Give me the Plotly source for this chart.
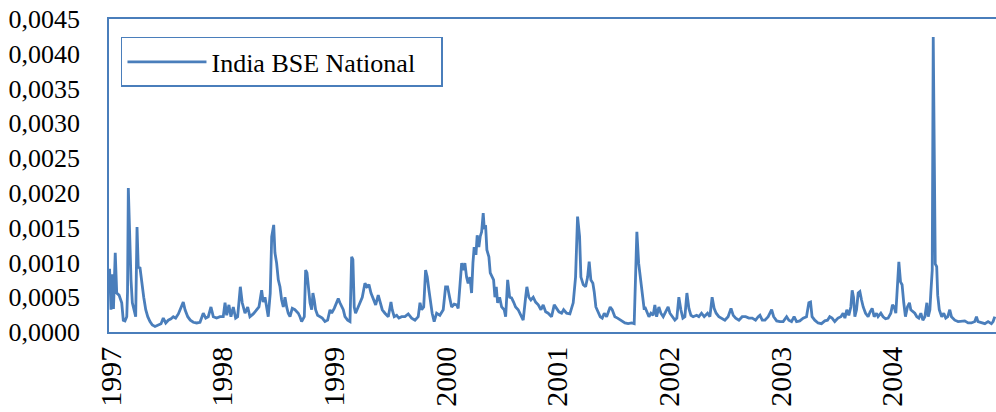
import plotly.graph_objects as go

years = [
    1996.987, 1997.000, 1997.012, 1997.022, 1997.038, 1997.051, 1997.072, 1997.096, 1997.110, 1997.125,
    1997.141, 1997.148, 1997.155, 1997.167, 1997.179, 1997.191, 1997.209, 1997.221, 1997.233, 1997.244,
    1997.260, 1997.275, 1997.293, 1997.311, 1997.329, 1997.349, 1997.370, 1997.394, 1997.423, 1997.448,
    1997.468, 1997.490, 1997.513, 1997.537, 1997.558, 1997.579, 1997.603, 1997.627, 1997.647, 1997.663,
    1997.687, 1997.710, 1997.737, 1997.767, 1997.797, 1997.826, 1997.848, 1997.871, 1997.895, 1997.916,
    1997.946, 1997.976, 1998.005, 1998.021, 1998.036, 1998.056, 1998.074, 1998.095, 1998.116, 1998.134,
    1998.158, 1998.175, 1998.200, 1998.224, 1998.244, 1998.274, 1998.304, 1998.325, 1998.349, 1998.363,
    1998.379, 1998.394, 1998.408, 1998.426, 1998.439, 1998.457, 1998.468, 1998.483, 1998.498, 1998.513,
    1998.528, 1998.543, 1998.558, 1998.573, 1998.587, 1998.603, 1998.623, 1998.647, 1998.677, 1998.692,
    1998.707, 1998.731, 1998.743, 1998.755, 1998.766, 1998.782, 1998.797, 1998.808, 1998.820, 1998.832,
    1998.850, 1998.871, 1998.892, 1998.916, 1998.940, 1998.961, 1998.976, 1998.999, 1999.021, 1999.035,
    1999.050, 1999.065, 1999.080, 1999.095, 1999.119, 1999.140, 1999.155, 1999.166, 1999.178, 1999.190,
    1999.208, 1999.229, 1999.250, 1999.274, 1999.292, 1999.310, 1999.328, 1999.348, 1999.370, 1999.393,
    1999.409, 1999.429, 1999.453, 1999.483, 1999.507, 1999.518, 1999.536, 1999.558, 1999.578, 1999.603,
    1999.632, 1999.662, 1999.692, 1999.722, 1999.751, 1999.767, 1999.782, 1999.800, 1999.817, 1999.832,
    1999.847, 1999.862, 1999.876, 1999.894, 1999.916, 1999.945, 1999.975, 1999.996, 2000.014, 2000.032,
    2000.050, 2000.073, 2000.095, 2000.109, 2000.124, 2000.140, 2000.154, 2000.169, 2000.184, 2000.198,
    2000.214, 2000.229, 2000.241, 2000.252, 2000.268, 2000.279, 2000.294, 2000.306, 2000.319, 2000.333,
    2000.342, 2000.355, 2000.366, 2000.384, 2000.396, 2000.414, 2000.426, 2000.438, 2000.450, 2000.462,
    2000.480, 2000.498, 2000.521, 2000.534, 2000.552, 2000.570, 2000.587, 2000.605, 2000.623, 2000.646,
    2000.671, 2000.691, 2000.713, 2000.724, 2000.742, 2000.760, 2000.781, 2000.802, 2000.826, 2000.850,
    2000.870, 2000.892, 2000.915, 2000.945, 2000.969, 2000.990, 2001.011, 2001.035, 2001.053, 2001.080,
    2001.109, 2001.139, 2001.160, 2001.178, 2001.196, 2001.208, 2001.229, 2001.250, 2001.268, 2001.282,
    2001.297, 2001.315, 2001.327, 2001.342, 2001.363, 2001.381, 2001.399, 2001.417, 2001.438, 2001.470,
    2001.488, 2001.512, 2001.536, 2001.566, 2001.602, 2001.631, 2001.662, 2001.685, 2001.698, 2001.709,
    2001.725, 2001.739, 2001.757, 2001.775, 2001.781, 2001.796, 2001.817, 2001.835, 2001.855, 2001.870,
    2001.886, 2001.906, 2001.924, 2001.945, 2001.966, 2001.989, 2002.005, 2002.025, 2002.049, 2002.067,
    2002.085, 2002.103, 2002.121, 2002.139, 2002.157, 2002.175, 2002.193, 2002.213, 2002.244, 2002.264,
    2002.288, 2002.312, 2002.342, 2002.363, 2002.383, 2002.401, 2002.419, 2002.443, 2002.467, 2002.497,
    2002.526, 2002.552, 2002.572, 2002.594, 2002.623, 2002.652, 2002.683, 2002.712, 2002.742, 2002.772,
    2002.796, 2002.811, 2002.832, 2002.856, 2002.885, 2002.916, 2002.934, 2002.961, 2002.990, 2003.019,
    2003.050, 2003.070, 2003.094, 2003.117, 2003.139, 2003.168, 2003.198, 2003.228, 2003.249, 2003.264,
    2003.278, 2003.302, 2003.332, 2003.362, 2003.392, 2003.416, 2003.436, 2003.457, 2003.481, 2003.510,
    2003.536, 2003.556, 2003.572, 2003.589, 2003.607, 2003.625, 2003.637, 2003.649, 2003.661, 2003.676,
    2003.691, 2003.706, 2003.721, 2003.736, 2003.757, 2003.780, 2003.798, 2003.816, 2003.834, 2003.855,
    2003.869, 2003.894, 2003.914, 2003.936, 2003.959, 2003.983, 2003.998, 2004.013, 2004.028, 2004.043,
    2004.055, 2004.070, 2004.084, 2004.099, 2004.114, 2004.132, 2004.150, 2004.162, 2004.180, 2004.198,
    2004.216, 2004.234, 2004.252, 2004.270, 2004.288, 2004.306, 2004.318, 2004.333, 2004.342, 2004.354,
    2004.363, 2004.381, 2004.394, 2004.403, 2004.417, 2004.439, 2004.457, 2004.475, 2004.493, 2004.511,
    2004.526, 2004.556, 2004.586, 2004.616, 2004.645, 2004.675, 2004.705, 2004.735, 2004.750, 2004.764,
    2004.795, 2004.825, 2004.854, 2004.884, 2004.899, 2004.914,
]

# India BSE National volatility, in units of 1e-4
india_bse_e4 = [
    9.1, 3.2, 8.3, 3.3, 11.4, 5.6, 5.3, 4.2, 1.7, 1.6,
    2.2, 5.8, 20.7, 13.7, 7.5, 4.2, 3.2, 2.2, 15.1, 9.3,
    9.2, 7.0, 5.0, 3.2, 2.2, 1.5, 1.0, 0.8, 1.0, 1.2,
    2.0, 1.3, 1.7, 1.9, 2.2, 2.0, 2.6, 3.6, 4.3, 3.2,
    2.2, 1.7, 1.4, 1.3, 1.4, 2.7, 2.0, 2.2, 3.6, 2.2,
    2.0, 2.2, 2.2, 4.2, 2.4, 3.9, 2.2, 3.6, 2.0, 2.2,
    6.5, 4.2, 2.7, 3.6, 2.2, 2.6, 3.2, 3.6, 6.0, 4.3,
    5.0, 3.2, 2.2, 5.6, 13.7, 15.4, 11.4, 9.9, 7.5, 6.5,
    4.6, 3.6, 5.0, 3.6, 2.7, 2.2, 3.4, 3.2, 2.7, 2.2,
    1.5, 2.2, 8.9, 8.5, 6.5, 4.2, 3.2, 5.6, 4.6, 3.2,
    2.4, 2.2, 2.0, 1.5, 1.7, 3.2, 2.7, 3.4, 4.2, 4.8,
    4.2, 3.6, 3.2, 2.2, 1.7, 1.5, 10.8, 10.4, 3.6, 2.7,
    3.4, 4.3, 5.0, 7.0, 6.5, 6.8, 5.6, 4.8, 3.9, 5.3,
    4.2, 3.2, 2.7, 2.2, 4.3, 3.2, 2.2, 2.4, 2.0, 2.2,
    2.2, 2.6, 2.0, 1.7, 2.2, 4.2, 3.2, 3.6, 8.9, 7.9,
    6.0, 4.2, 2.7, 1.5, 2.7, 2.4, 3.2, 6.5, 6.5, 5.0,
    3.6, 4.0, 3.9, 3.4, 6.8, 9.9, 8.9, 9.9, 7.9, 7.0,
    7.9, 5.6, 9.9, 12.2, 11.1, 13.9, 12.2, 13.7, 14.4, 17.1,
    15.0, 15.1, 11.8, 10.8, 8.5, 7.9, 7.5, 5.0, 6.5, 4.2,
    5.0, 3.6, 3.2, 2.2, 7.5, 5.0, 4.9, 4.3, 3.6, 3.2,
    2.4, 1.7, 5.0, 6.5, 5.0, 4.6, 5.0, 4.3, 3.9, 3.2,
    3.9, 2.9, 2.7, 2.2, 3.9, 3.4, 2.9, 2.7, 3.2, 2.7,
    2.6, 4.2, 7.9, 16.6, 13.7, 7.9, 6.8, 6.5, 7.9, 10.1,
    7.5, 7.0, 5.8, 3.6, 2.9, 2.2, 2.0, 2.7, 2.2, 3.6,
    3.2, 2.2, 2.0, 1.7, 1.3, 1.2, 1.3, 1.2, 10.4, 14.4,
    9.9, 7.9, 5.0, 3.2, 3.6, 2.9, 2.2, 2.7, 2.4, 3.9,
    2.2, 3.6, 2.7, 2.2, 2.9, 3.6, 2.7, 2.2, 1.7, 2.0,
    5.0, 3.2, 2.0, 2.2, 5.6, 3.4, 2.4, 2.2, 2.4, 2.2,
    2.7, 2.2, 2.7, 2.2, 5.0, 3.4, 2.7, 2.2, 2.0, 1.7,
    2.2, 3.4, 2.4, 2.0, 1.7, 2.2, 2.2, 2.0, 2.0, 1.7,
    2.2, 2.4, 1.7, 1.7, 2.2, 3.2, 2.2, 1.6, 1.5, 1.5,
    2.2, 1.7, 1.5, 2.2, 1.5, 1.6, 2.0, 2.2, 4.2, 4.3,
    2.2, 1.7, 1.3, 1.2, 1.6, 1.7, 2.2, 2.0, 1.5, 2.0,
    2.2, 2.7, 2.0, 3.2, 2.4, 3.6, 6.0, 5.0, 2.2, 3.2,
    5.6, 5.8, 4.6, 3.6, 2.7, 2.2, 2.9, 3.4, 2.2, 2.7,
    2.2, 2.7, 2.2, 1.9, 2.0, 2.7, 3.9, 3.6, 2.7, 7.2,
    10.1, 7.2, 6.8, 4.2, 2.2, 3.6, 4.2, 3.2, 2.9, 2.7,
    2.2, 2.0, 2.7, 1.7, 2.2, 4.2, 2.2, 3.2, 5.8, 8.9,
    42.4, 9.8, 9.4, 5.3, 3.2, 2.2, 2.7, 2.0, 2.2, 3.2,
    2.2, 1.7, 1.5, 1.5, 1.6, 1.3, 1.3, 1.5, 2.2, 1.5,
    1.3, 1.2, 1.5, 1.2, 1.5, 2.2,
]

series_name = "India BSE National"
year_ticks = [1997, 1998, 1999, 2000, 2001, 2002, 2003, 2004]
y_ticks = [0.0, 0.0005, 0.0010, 0.0015, 0.0020, 0.0025, 0.0030, 0.0035, 0.0040, 0.0045]

values = [v * 1e-4 for v in india_bse_e4]

BLUE = "#4A7EBB"
FONT = "'Liberation Serif', 'Times New Roman', serif"

fig = go.Figure()
fig.add_trace(go.Scatter(
    x=years, y=values, mode="lines", name=series_name,
    line=dict(color=BLUE, width=2.8),
))

fig.update_layout(
    width=996, height=412,
    margin=dict(l=109, r=0, t=19, b=80, autoexpand=False),
    paper_bgcolor="white", plot_bgcolor="white",
    separators=",.",
    font=dict(family=FONT, size=24, color="black"),
    showlegend=True,
    legend=dict(
        orientation="h",
        x=0.0135, y=0.9425, xanchor="left", yanchor="top",
        bordercolor=BLUE, borderwidth=1.5, bgcolor="white",
        font=dict(family=FONT, size=26, color="black"),
        itemwidth=79, tracegroupgap=0,
        entrywidth=225, entrywidthmode="pixels",
    ),
)
fig.update_xaxes(
    range=[1996.982, 2004.925], automargin=False,
    tickmode="array", tickvals=year_ticks, ticktext=[str(y) for y in year_ticks],
    tickangle=-90, showgrid=False, zeroline=False,
    showline=True, linecolor=BLUE, linewidth=1.5, mirror=True,
    ticks="", tickfont=dict(family=FONT, size=30, color="black"),
    ticklabelstandoff=1,
)
fig.update_yaxes(
    range=[0, 0.0045], automargin=False,
    tickmode="array", tickvals=y_ticks, tickformat=".4f",
    showgrid=False, zeroline=False,
    showline=True, linecolor=BLUE, linewidth=1.5, mirror=True,
    ticks="", tickfont=dict(family=FONT, size=26, color="black"),
    ticklabelstandoff=22,
)

fig.write_html(
    "out.html",
    config={"displayModeBar": False},
    post_script="document.body.style.margin='0';document.body.style.padding='0';",
)
